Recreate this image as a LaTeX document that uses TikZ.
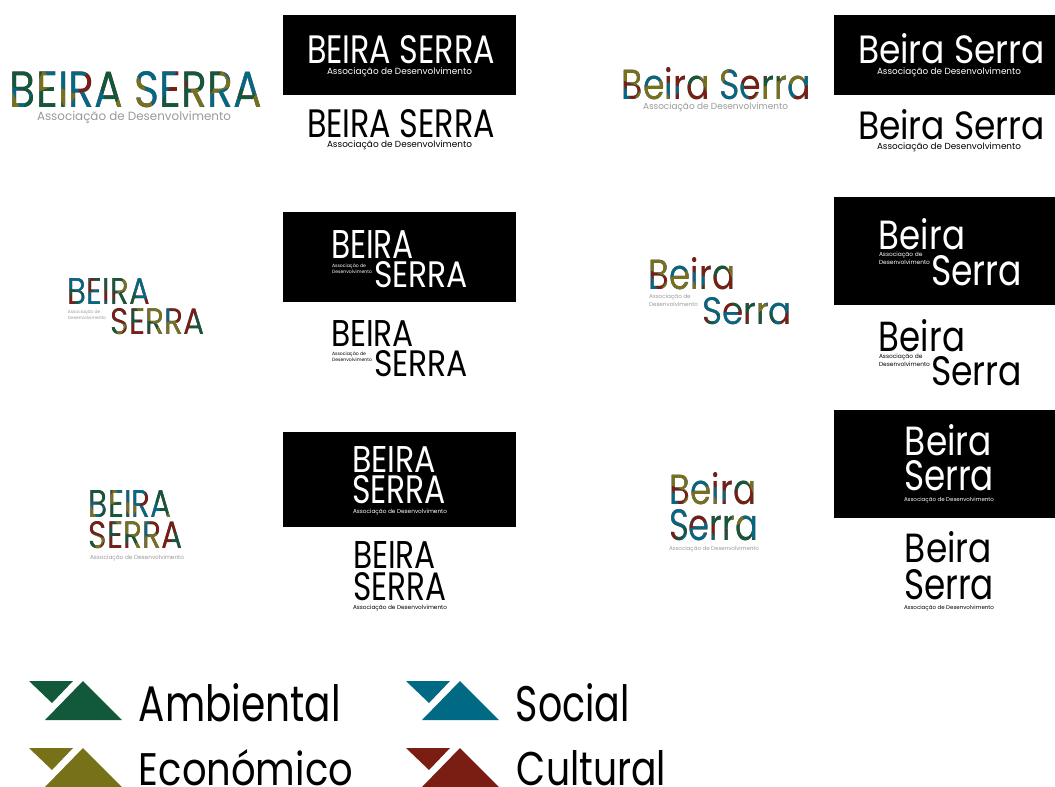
\documentclass[tikz,border=0pt]{standalone}
\usepackage{fontspec}
\usepackage{graphicx}
\setmainfont{Poppins}
\definecolor{cg}{HTML}{11593A}
\definecolor{co}{HTML}{77711A}
\definecolor{ct}{HTML}{006A84}
\definecolor{cr}{HTML}{7A1E14}
\definecolor{subgray}{HTML}{9A9A9A}
\colorlet{pal0}{ct}\colorlet{pal1}{cr}\colorlet{pal2}{cg}\colorlet{pal3}{co}
\newcommand\assoc{Associação de Desenvolvimento}
\newcommand\associi{\shortstack[l]{Associação de\\Desenvolvimento}}
% \fit{name}{x1}{x2}{y1}{y2}{text}: text stretched to the given box
\newcommand\fit[6]{%
  \pgfmathsetmacro\fw{#3-#2}\pgfmathsetmacro\fh{#5-#4}%
  \node[txt] (#1) at ({(#2+#3)/2},{(#4+#5)/2}) {\resizebox{\fw pt}{\fh pt}{#6}};}
\newcommand\sfit[6]{%
  \pgfmathsetmacro\fw{#3-#2}%
  \node[txt] (#1) at ({(#2+#3)/2},{(#4+#5)/2+1}) {\resizebox{\fw pt}{!}{#6}};}
% \mosaic{x1}{x2}{y1}{y2}{seed}: facets that colour the dark text below them and leave white as it is
\newcommand\mosaic[5]{%
  \begin{scope}
  \clip (#1-1,#3-1) rectangle (#2+1,#4+1);
  \pgfmathsetmacro\mh{#4-#3}\pgfmathsetmacro\mstep{0.62*\mh}\pgfmathsetmacro\mym{(#3+#4)/2}%
  \pgfmathtruncatemacro\mn{(#2-#1)/\mstep+3}%
  \foreach \i in {0,...,\mn}{%
    \pgfmathsetmacro\sa{0.3*\mh*(mod(\i,2)*2-1)}%
    \pgfmathsetmacro\xa{#1+(\i-2)*\mstep}%
    \pgfmathsetmacro\xb{\xa+\mstep}%
    \pgfmathsetmacro\ya{\mym+0.4*\sa}%
    \pgfmathsetmacro\yb{\mym-0.4*\sa}%
    \pgfmathtruncatemacro\ct{mod(\i+#5,4)}%
    \pgfmathtruncatemacro\cb{mod(\i+#5+2+floor(\i/3),4)}%
    \fill[facet,pal\ct] (\xa+\sa,#3-2) -- (\xb-\sa,#3-2) -- (\xb,\yb) -- (\xa,\ya) -- cycle;
    \fill[facet,pal\cb] (\xa,\ya) -- (\xb,\yb) -- (\xb+\sa,#4+2) -- (\xa-\sa,#4+2) -- cycle;
  }
  \end{scope}}
\newcommand\logomark[3]{% x offset, y offset, colour
  \fill[#3] (#1+29,#2+681) -- (#1+73,#2+681) -- (#1+52,#2+703) -- cycle;
  \fill[#3] (#1+83,#2+681) -- (#1+122,#2+720) -- (#1+45,#2+720) -- cycle;}
\tikzset{
  txt/.style={inner sep=0pt,outer sep=0pt,anchor=center},
  band/.style={fill=black,inner sep=0pt,outer sep=0pt,anchor=north west},
  facet/.style={blend mode=lighten},
}
\begin{document}
\begin{tikzpicture}[x=1pt,y=-1pt]
\useasboundingbox (0,0) rectangle (1055,787);
\fill[white] (0,0) rectangle (1055,787);
% black bands
\node[band,minimum width=233pt,minimum height=80pt] (b1) at (283,15) {};
\node[band,minimum width=233pt,minimum height=90pt] (b2) at (283,212) {};
\node[band,minimum width=233pt,minimum height=95pt] (b3) at (283,432) {};
\node[band,minimum width=221pt,minimum height=80pt] (b4) at (834,15) {};
\node[band,minimum width=221pt,minimum height=108pt] (b5) at (834,197) {};
\node[band,minimum width=221pt,minimum height=108pt] (b6) at (834,410) {};
% row 1 left
\fit{a1}{10}{262}{72}{108}{BEIRA SERRA}
\mosaic{10}{262}{72}{108}{0}
\sfit{a2}{37}{231}{110}{124}{\textcolor{subgray}{\assoc}}
\fit{a3}{307}{495}{36}{64}{\textcolor{white}{BEIRA SERRA}}
\sfit{a4}{327}{472}{66}{76}{\textcolor{white}{\assoc}}
\fit{a5}{307}{495}{110}{138}{BEIRA SERRA}
\sfit{a6}{327}{472}{139}{150}{\assoc}
% row 1 right
\fit{b7}{622}{811}{68}{100}{Beira Serra}
\mosaic{622}{811}{68}{100}{1}
\sfit{b8}{643}{788}{101}{112}{\textcolor{subgray}{\assoc}}
\fit{b9}{858}{1045}{34}{64}{\textcolor{white}{Beira Serra}}
\sfit{b10}{877}{1021}{66}{77}{\textcolor{white}{\assoc}}
\fit{b11}{858}{1045}{110}{140}{Beira Serra}
\sfit{b12}{877}{1021}{141}{152}{\assoc}
% row 2 left
\fit{c1}{68}{150}{278}{304}{BEIRA}
\mosaic{68}{150}{278}{304}{2}
\fit{c2}{111}{205}{309}{335}{SERRA}
\mosaic{111}{205}{309}{335}{3}
\sfit{c3}{68}{106}{309}{319}{\textcolor{subgray}{\associi}}
\fit{c4}{331}{414}{230}{258}{\textcolor{white}{BEIRA}}
\fit{c5}{374}{468}{262}{288}{\textcolor{white}{SERRA}}
\sfit{c6}{332}{372}{262}{273}{\textcolor{white}{\associi}}
\fit{c7}{331}{414}{320}{346}{BEIRA}
\fit{c8}{374}{468}{351}{377}{SERRA}
\sfit{c9}{332}{372}{350}{361}{\associi}
% row 2 right
\fit{d1}{649}{735}{258}{290}{Beira}
\mosaic{649}{735}{258}{290}{1}
\fit{d2}{702}{792}{298}{325}{Serra}
\mosaic{702}{792}{298}{325}{2}
\sfit{d3}{649}{698}{293}{306}{\textcolor{subgray}{\associi}}
\fit{d4}{879}{965}{219}{250}{\textcolor{white}{Beira}}
\fit{d5}{931}{1022}{256}{286}{\textcolor{white}{Serra}}
\sfit{d6}{879}{930}{250}{265}{\textcolor{white}{\associi}}
\fit{d7}{879}{965}{320}{352}{Beira}
\fit{d8}{931}{1022}{357}{386}{Serra}
\sfit{d9}{879}{930}{351}{367}{\associi}
% row 3 left
\fit{e1}{89}{172}{490}{517}{BEIRA}
\mosaic{89}{172}{490}{517}{0}
\fit{e2}{89}{183}{522}{549}{SERRA}
\mosaic{89}{183}{522}{549}{3}
\sfit{e3}{90}{184}{553}{561}{\textcolor{subgray}{\assoc}}
\fit{e4}{352}{436}{446}{472}{\textcolor{white}{BEIRA}}
\fit{e5}{352}{446}{476}{504}{\textcolor{white}{SERRA}}
\sfit{e6}{353}{447}{507}{515}{\textcolor{white}{\assoc}}
\fit{e7}{353}{436}{541}{568}{BEIRA}
\fit{e8}{353}{446}{573}{601}{SERRA}
\sfit{e9}{353}{447}{603}{611}{\assoc}
% row 3 right
\fit{f1}{670}{756}{473}{505}{Beira}
\mosaic{670}{756}{473}{505}{1}
\fit{f2}{669}{758}{510}{541}{Serra}
\mosaic{669}{758}{510}{541}{2}
\sfit{f3}{669}{759}{544}{552}{\textcolor{subgray}{\assoc}}
\fit{f4}{905}{992}{425}{456}{\textcolor{white}{Beira}}
\fit{f5}{904}{994}{461}{491}{\textcolor{white}{Serra}}
\sfit{f6}{904}{994}{495}{503}{\textcolor{white}{\assoc}}
\fit{f7}{905}{992}{532}{563}{Beira}
\fit{f8}{904}{994}{570}{600}{Serra}
\sfit{f9}{904}{994}{603}{611}{\assoc}
% legend
\logomark{0}{0}{cg}
\logomark{0}{67}{co}
\logomark{377}{0}{ct}
\logomark{377}{67}{cr}
\fit{g1}{139}{341}{684}{722}{Ambiental}
\fit{g2}{139}{353}{750}{786}{Económico}
\fit{g3}{516}{630}{684}{722}{Social}
\fit{g4}{517}{666}{751}{786}{Cultural}
\end{tikzpicture}
\end{document}
